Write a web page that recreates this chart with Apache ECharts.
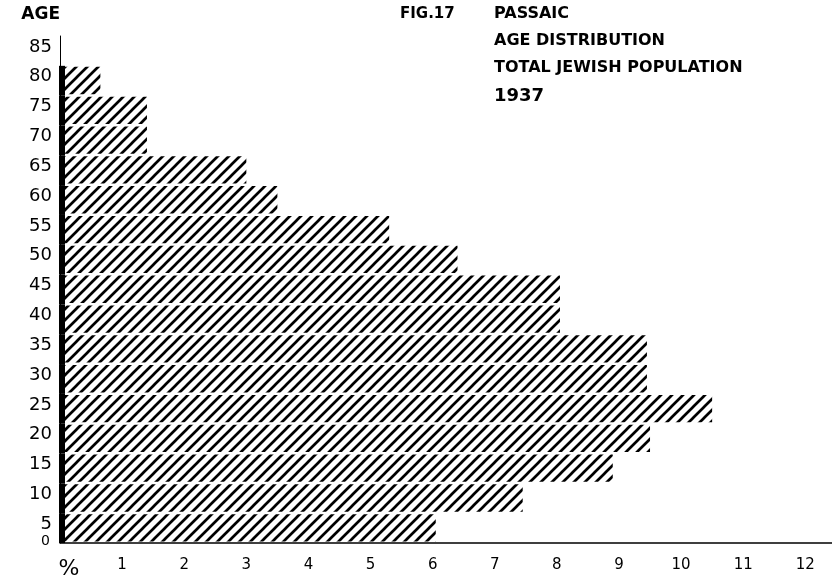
<!DOCTYPE html>
<html>
<head>
<meta charset="utf-8">
<script src="https://cdn.jsdelivr.net/npm/echarts@6/dist/echarts.min.js"></script>
<style>
  html, body { margin: 0; padding: 0; background: #fff; }
  #chart { width: 832px; height: 580px; }
</style>
</head>
<body>
<div id="chart"></div>
<script>
// age groups (lower / upper bound) and share of population in %
const ageFrom = [0, 5, 10, 15, 20, 25, 30, 35, 40, 45, 50, 55, 60, 65, 70, 75]
const ageTo = [5, 10, 15, 20, 25, 30, 35, 40, 45, 50, 55, 60, 65, 70, 75, 80]
const percent = [6.05, 7.45, 8.9, 9.5, 10.5, 9.45, 9.45, 8.05, 8.05, 6.4, 5.3, 3.5, 3.0, 1.4, 1.4, 0.65]

const titleLines = ['PASSAIC', 'AGE DISTRIBUTION', 'TOTAL JEWISH POPULATION']
const yearLabel = '1937'
const figLabel = 'FIG.17'

const FONT = 'DejaVu Sans'

// diagonal hatching "////"
function hatch () {
  const c = document.createElement('canvas')
  const s = 11
  c.width = s
  c.height = s
  const ctx = c.getContext('2d')
  ctx.fillStyle = '#fff'
  ctx.fillRect(0, 0, s, s)
  ctx.strokeStyle = '#000'
  ctx.lineWidth = 2.7
  ctx.beginPath()
  ctx.moveTo(-2, s + 2); ctx.lineTo(s + 2, -2)
  ctx.moveTo(-2, 2); ctx.lineTo(2, -2)
  ctx.moveTo(s - 2, s + 2); ctx.lineTo(s + 2, s - 2)
  ctx.stroke()
  return { image: c, repeat: 'repeat' }
}

const pattern = hatch()
const data = ageFrom.map((a, i) => [a, ageTo[i], percent[i]])

const chart = echarts.init(document.getElementById('chart'))
chart.setOption({
  backgroundColor: '#fff',
  animation: false,
  title: [
    {
      text: figLabel,
      left: 400,
      top: 7,
      padding: 0,
      textStyle: { fontFamily: FONT, fontSize: 15, fontWeight: 'bold', color: '#000' }
    },
    {
      text: titleLines.join('\n') + '\n{y|' + yearLabel + '}',
      left: 494,
      top: 0,
      padding: 0,
      textStyle: {
        fontFamily: FONT,
        fontSize: 16,
        fontWeight: 'bold',
        color: '#000',
        lineHeight: 27,
        rich: { y: { fontFamily: FONT, fontSize: 18, fontWeight: 'bold', lineHeight: 30 } }
      }
    }
  ],
  grid: { left: 60, right: 0, top: 36, bottom: 35 },
  xAxis: {
    type: 'value',
    min: 0,
    max: 12.43,
    interval: 1,
    splitLine: { show: false },
    axisTick: { show: false },
    axisLine: { show: true, lineStyle: { color: '#000', width: 1.5 } },
    axisLabel: {
      margin: 15,
      color: '#000',
      fontFamily: FONT,
      fontSize: 15,
      showMaxLabel: false,
      formatter: v => {
        if (v === 0) return '{p|%}'
        return Number.isInteger(v) ? String(v) : ''
      },
      rich: { p: { fontFamily: FONT, fontSize: 22, padding: [0, 0, 8, 18] } }
    }
  },
  yAxis: {
    type: 'value',
    min: 0,
    max: 85,
    interval: 5,
    name: 'AGE',
    nameGap: 13,
    nameTextStyle: { fontFamily: FONT, fontSize: 17, fontWeight: 'bold', color: '#000', align: 'right' },
    splitLine: { show: false },
    axisTick: { show: false },
    axisLine: { show: true, lineStyle: { color: '#000', width: 1 } },
    axisLabel: {
      margin: 8,
      color: '#000',
      fontFamily: FONT,
      fontSize: 18,
      formatter: v => (v === 0 ? '{z|0}' : '{a|' + v + '}'),
      rich: {
        a: { fontFamily: FONT, fontSize: 18, padding: [22, 0, 0, 0] },
        z: { fontFamily: FONT, fontSize: 14, padding: [0, 2, 4, 0] }
      }
    }
  },
  series: [
    {
      type: 'custom',
      data: data,
      encode: { x: 2, y: [0, 1] },
      renderItem (params, api) {
        const lo = api.value(0)
        const hi = api.value(1)
        const p0 = api.coord([0, lo])
        const p1 = api.coord([api.value(2), hi])
        return {
          type: 'group',
          children: [
            {
              type: 'rect',
              shape: { x: p0[0], y: p1[1] + 1, width: p1[0] - p0[0], height: p0[1] - p1[1] - 2.5 },
              style: { fill: pattern }
            },
            {
              type: 'rect',
              shape: { x: p0[0] - 1, y: p1[1], width: 6, height: p0[1] - p1[1] },
              style: { fill: '#000' }
            }
          ]
        }
      }
    }
  ]
})
</script>
</body>
</html>
